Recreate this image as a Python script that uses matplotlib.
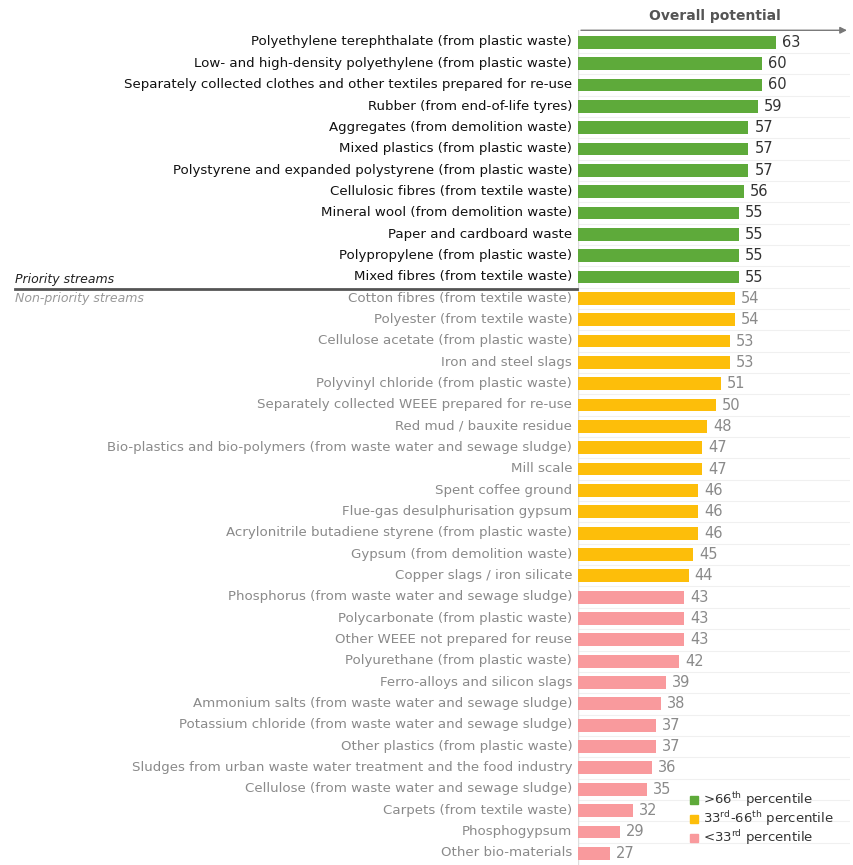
import matplotlib
matplotlib.use('Agg')
import matplotlib.pyplot as plt
from matplotlib.patches import Rectangle

# material streams, top to bottom
labels = [
    'Polyethylene terephthalate (from plastic waste)',
    'Low- and high-density polyethylene (from plastic waste)',
    'Separately collected clothes and other textiles prepared for re-use',
    'Rubber (from end-of-life tyres)',
    'Aggregates (from demolition waste)',
    'Mixed plastics (from plastic waste)',
    'Polystyrene and expanded polystyrene (from plastic waste)',
    'Cellulosic fibres (from textile waste)',
    'Mineral wool (from demolition waste)',
    'Paper and cardboard waste',
    'Polypropylene (from plastic waste)',
    'Mixed fibres (from textile waste)',
    'Cotton fibres (from textile waste)',
    'Polyester (from textile waste)',
    'Cellulose acetate (from plastic waste)',
    'Iron and steel slags',
    'Polyvinyl chloride (from plastic waste)',
    'Separately collected WEEE prepared for re-use',
    'Red mud / bauxite residue',
    'Bio-plastics and bio-polymers (from waste water and sewage sludge)',
    'Mill scale',
    'Spent coffee ground',
    'Flue-gas desulphurisation gypsum',
    'Acrylonitrile butadiene styrene (from plastic waste)',
    'Gypsum (from demolition waste)',
    'Copper slags / iron silicate',
    'Phosphorus (from waste water and sewage sludge)',
    'Polycarbonate (from plastic waste)',
    'Other WEEE not prepared for reuse',
    'Polyurethane (from plastic waste)',
    'Ferro-alloys and silicon slags',
    'Ammonium salts (from waste water and sewage sludge)',
    'Potassium chloride (from waste water and sewage sludge)',
    'Other plastics (from plastic waste)',
    'Sludges from urban waste water treatment and the food industry',
    'Cellulose (from waste water and sewage sludge)',
    'Carpets (from textile waste)',
    'Phosphogypsum',
    'Other bio-materials',
]
values = [63, 60, 60, 59, 57, 57, 57, 56, 55, 55, 55, 55,
          54, 54, 53, 53, 51, 50, 48, 47, 47, 46, 46, 46, 45, 44,
          43, 43, 43, 42, 39, 38, 37, 37, 36, 35, 32, 29, 27]
groups = ['high'] * 12 + ['mid'] * 14 + ['low'] * 13
n_priority = 12

colours = {'high': '#5eaa3a', 'mid': '#fdbe0a', 'low': '#f99a9d'}
legend_text = [('high', r'>66$^{\rm th}$ percentile'),
               ('mid', r'33$^{\rm rd}$-66$^{\rm th}$ percentile'),
               ('low', r'<33$^{\rm rd}$ percentile')]

base = 20

fig = plt.figure(figsize=(8.54, 8.65), dpi=100)
ax = fig.add_axes([0.677, 0.0, 0.318, 0.965])

n = len(values)
for i in range(n):
    ax.barh(i, values[i] - base, left=base, height=0.6,
            color=colours[groups[i]], zorder=2)
    if i < n_priority:
        tcol, vcol = '#111111', '#333333'
    else:
        tcol, vcol = '#8a8a8a', '#8a8a8a'
    ax.text(values[i] + 1.3, i, str(values[i]), va='center', ha='left',
            fontsize=10.5, color=vcol)
    fig.text(0.670, 1 - (42 + 21.34 * i) / 865, labels[i], ha='right',
             va='center', fontsize=9.6, color=tcol)

# faint row separators
for i in range(n - 1):
    ax.axhline(i + 0.5, color='#f0f0f0', lw=0.8, zorder=1)

ax.set_xlim(base, 79)
ax.set_ylim(38.55, -0.56)
ax.axis('off')
ax.axvline(base, color='#dddddd', lw=1, zorder=1)

# top axis arrow
ax.annotate('', xy=(79, -0.56), xytext=(base, -0.56),
            arrowprops=dict(arrowstyle='-|>', color='#777777', lw=1,
                            mutation_scale=10),
            annotation_clip=False)
fig.text(715 / 854, 1 - 16 / 865, 'Overall potential', ha='center',
         va='center', fontsize=10, fontweight='bold', color='#555555')

# priority / non-priority separator
sep_y = 1 - 289 / 865
fig.add_artist(plt.Line2D([15 / 854, 577 / 854], [sep_y, sep_y],
                          color='#555555', lw=2))
fig.text(15 / 854, sep_y + 0.003, 'Priority streams', ha='left', va='bottom',
         fontsize=9, style='italic', color='#222222')
fig.text(15 / 854, sep_y - 0.004, 'Non-priority streams', ha='left', va='top',
         fontsize=9, style='italic', color='#999999')

# legend
for k, (g, txt) in enumerate(legend_text):
    yy = 1 - (800 + 19 * k) / 865
    fig.add_artist(Rectangle((690 / 854, yy - 0.0045), 8 / 854, 8 / 865,
                             color=colours[g], transform=fig.transFigure))
    fig.text(703 / 854, yy, txt, ha='left', va='center', fontsize=9.5,
             color='#333333')

plt.savefig('out.png', dpi=100)
